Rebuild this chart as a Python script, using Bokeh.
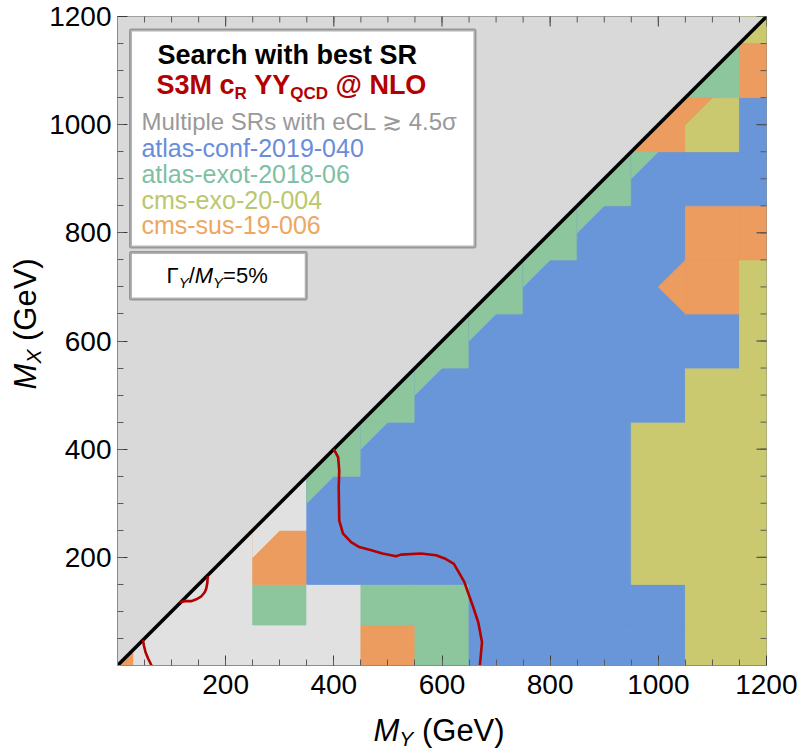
import numpy as np
from bokeh.plotting import figure
from bokeh.models import Range1d, FixedTicker, Label, BoxAnnotation
from bokeh.layouts import column, row
from bokeh.embed import file_html
from bokeh.resources import INLINE

# ---------------- data ----------------
# grid masses (GeV), used for both M_Y (columns) and M_X (rows)
masses = [10, 50, 100, 200, 300, 400, 500, 600, 700, 800, 900, 1000, 1100, 1200]
# best search per M_Y column, one code per M_X row from the lowest row up to the diagonal
best_sr = [
    "O",
    "LL",
    "LLL",
    "LLLL",
    "LLGOL",
    "LLLBBG",
    "OOGBBBG",
    "GGGBBBBG",
    "BBBBBBBBG",
    "BBBBBBBBBG",
    "BBBBBBBBBBG",
    "BBBYYYBBBBBO",
    "YYYYYYYBOOBYG",
    "YYYYYYYYYOBBOY",
]
# search winning the upper-left corner of the cell just below the diagonal (per column, from M_Y=200)
corner_sr = {200: "L", 300: "L", 400: "G", 500: "G", 600: "G", 700: "G", 800: "G",
             900: "G", 1000: "G", 1100: "O", 1200: "O"}
# cells (M_Y, M_X) whose region reaches into the left neighbour
spill_cells = [(1100, 700)]

cat_codes = ["L", "B", "G", "Y", "O"]
cat_labels = ["Multiple SRs with eCL \u2273 4.5\u03c3", "atlas-conf-2019-040",
              "atlas-exot-2018-06", "cms-exo-20-004", "cms-sus-19-006"]
cat_fill = {"L": "#e1e1e1", "B": "#6996d8", "G": "#8dc59d", "Y": "#cbc96f", "O": "#eb9c5e"}
cat_text = {"L": "#999999", "B": "#6a8cdc", "G": "#7fbfa3", "Y": "#bac76c", "O": "#eda762"}

# exclusion contour (M_Y, M_X), three pieces
contour_my = [
    [400, 408, 410, 409, 410, 417, 432, 447, 466, 490, 515, 524, 561, 589, 605, 622, 641, 657, 667, 674, 670],
    [115, 125, 137, 147, 155, 161, 164, 166, 167],
    [47, 49, 52, 57, 63],
]
contour_mx = [
    [400, 385, 360, 330, 268, 244, 228, 219, 214, 207, 202, 205, 207, 204, 198, 188, 155, 110, 80, 43, 0],
    [117, 119, 119, 123, 128, 135, 142, 152, 165],
    [47, 36, 24, 12, 0],
]

x_ticks = [200, 400, 600, 800, 1000, 1200]
y_ticks = [200, 400, 600, 800, 1000, 1200]
minor = list(range(50, 1200, 50))

# ---------------- main figure ----------------
FONT = "Liberation Sans"
LEFT_W = 46          # width of the strip holding the vertical axis title
MAIN_W = 70 + 650 + 31
MAIN_H = 16 + 649 + 45
BOTTOM_H = 751 - MAIN_H
BASE_FIX = 0.37      # text-box offset of Bokeh's alphabetic anchor, in em
p = figure(width=MAIN_W, height=MAIN_H, output_backend="svg", toolbar_location=None,
           x_range=Range1d(0, 1200), y_range=Range1d(0, 1200), title=None,
           min_border_left=70, min_border_right=31, min_border_top=16, min_border_bottom=45)
p.background_fill_color = "#d9d9d9"
p.border_fill_color = "white"
p.outline_line_color = "#8c8c8c"
p.xgrid.visible = False
p.ygrid.visible = False

for ax, ticks in ((p.xaxis[0], x_ticks), (p.yaxis[0], y_ticks)):
    ax.ticker = FixedTicker(ticks=ticks, minor_ticks=minor)
    ax.axis_label = None
    ax.axis_line_color = "#8c8c8c"
    ax.major_tick_in = 10
    ax.major_tick_out = 0
    ax.minor_tick_in = 6
    ax.minor_tick_out = 0
    ax.major_tick_line_color = "#3a3a3a"
    ax.minor_tick_line_color = "#5a5a5a"
    ax.major_label_text_font = FONT
    ax.major_label_text_font_size = "28px"
    ax.major_label_text_color = "black"
p.xaxis[0].major_label_standoff = 9
p.yaxis[0].major_label_standoff = 6

# ---------------- cells ----------------
lo_edge = p.x_range.start
hi_edge = p.x_range.end
edges = [lo_edge] + [(a + b) / 2 for a, b in zip(masses[:-1], masses[1:])] + [hi_edge]

ql, qr, qb, qt, qc = [], [], [], [], []
for i, col in enumerate(best_sr):
    for j, code in enumerate(col):
        ql.append(edges[i]); qr.append(edges[i + 1])
        qb.append(edges[j]); qt.append(edges[j + 1])
        qc.append(cat_fill[code])
p.quad(left=ql, right=qr, bottom=qb, top=qt, fill_color=qc, line_color=qc, line_width=0.8)

px_, py_, pc_ = [], [], []
for i, m in enumerate(masses):
    if m in corner_sr and i >= 1:
        xs = [edges[i], masses[i], edges[i]]
        ys = [(edges[i - 1] + edges[i]) / 2, edges[i], edges[i]]
        px_.append(xs); py_.append(ys); pc_.append(cat_fill[corner_sr[m]])
for (my, mx) in spill_cells:
    i = masses.index(my); j = masses.index(mx)
    xs = [edges[i] + 0.5, masses[i - 1], edges[i] + 0.5]
    ys = [edges[j + 1], masses[j], edges[j]]
    px_.append(xs); py_.append(ys); pc_.append(cat_fill[best_sr[i][j]])
p.patches(px_, py_, fill_color=pc_, line_color=pc_, line_width=0.8)

# region above the diagonal
p.patch([lo_edge, lo_edge, hi_edge], [lo_edge, hi_edge, hi_edge], fill_color="#d9d9d9", line_color=None)
p.line([lo_edge, hi_edge], [lo_edge, hi_edge], line_color="black", line_width=3.5)

# contour
for xs, ys in zip(contour_my, contour_mx):
    p.line(xs, ys, line_color="#b30000", line_width=2.6, line_join="round")

# ticks on the top and right frame edges (markers centred on the edge, clipped to the frame)
p.scatter(x=x_ticks, y=[hi_edge] * len(x_ticks), marker="dash", size=20, angle=np.pi / 2,
          line_color="#3a3a3a", line_width=1)
p.scatter(x=minor, y=[hi_edge] * len(minor), marker="dash", size=12, angle=np.pi / 2,
          line_color="#5a5a5a", line_width=1)
p.scatter(x=[hi_edge] * len(y_ticks), y=y_ticks, marker="dash", size=20,
          line_color="#3a3a3a", line_width=1)
p.scatter(x=[hi_edge] * len(minor), y=minor, marker="dash", size=12,
          line_color="#5a5a5a", line_width=1)

# ---------------- annotations ----------------
def px2x(px):
    return (px - 116) * 1200 / 650.0

def py2y(py):
    return (665 - py) * 1200 / 649.0

ADV = {" ": .278, "(": .333, ")": .333, "G": .778, "e": .556, "V": .667, "M": .833, "Y": .667,
       "X": .667, "/": .278, "=": .584, "5": .556, "%": .889, "\u0393": .556, "S": .667, "3": .556,
       "c": .556, "R": .722, "Q": .778, "C": .722, "D": .722, "@": .975, "N": .722, "L": .611,
       "O": .778}

def tw(s, size):
    return sum(ADV.get(ch, 0.556) for ch in s) * size

def label(fig, text, x, y, size, color="black", style="normal", xo=0, yo=0, angle=0.0):
    if angle:
        xo = xo - BASE_FIX * size
    else:
        yo = yo + BASE_FIX * size
    fig.add_layout(Label(x=x, y=y, text=text, text_font=FONT, text_font_size=f"{size}px",
                         text_font_style=style, text_color=color, text_align="left",
                         text_baseline="alphabetic", x_offset=xo, y_offset=yo, angle=angle))

def chain(fig, pieces, x, y, vertical=False, color="black"):
    """pieces: (text, size, shift, style); leading blanks become advance."""
    off = 0.0
    for txt, sz, sh, st in pieces:
        stripped = txt.lstrip(" ")
        off += tw(txt[:len(txt) - len(stripped)], sz)
        if vertical:
            label(fig, stripped, x, y, sz, color=color, style=st, xo=sh, yo=off, angle=np.pi / 2)
        else:
            label(fig, stripped, x, y, sz, color=color, style=st, xo=off, yo=sh)
        off += tw(stripped, sz)

p.add_layout(BoxAnnotation(left=px2x(129), right=px2x(474), top=py2y(29.5), bottom=py2y(246.5),
                           fill_color="white", fill_alpha=1.0, line_color="black", line_width=3))
p.add_layout(BoxAnnotation(left=px2x(129), right=px2x(305), top=py2y(252), bottom=py2y(298.5),
                           fill_color="white", fill_alpha=1.0, line_color="black", line_width=3))

label(p, "Search with best SR", px2x(156), py2y(64.5), 27, style="bold")
chain(p, [("S3M c", 27, 0, "bold"), ("R", 17, -5, "bold"), (" YY", 27, 0, "bold"),
          ("QCD", 17, -5, "bold"), (" @ NLO", 27, 0, "bold")],
      px2x(155), py2y(94), color="#b30000")

base = [130, 156.5, 182.5, 208.5, 233.5]
sizes = [24, 25, 25, 25, 25]
for code, txt, b, sz in zip(cat_codes, cat_labels, base, sizes):
    label(p, txt, px2x(140), py2y(b), sz, color=cat_text[code])

chain(p, [("\u0393", 22, 0, "normal"), ("Y", 15, -4, "italic"), ("/", 22, 0, "normal"),
          ("M", 22, 0, "italic"), ("Y", 15, -4, "italic"), ("=5%", 22, 0, "normal")],
      px2x(165), py2y(283.5))

# ---------------- axis-title strips ----------------
fy = figure(width=LEFT_W, height=MAIN_H, x_range=Range1d(0, LEFT_W), y_range=Range1d(0, MAIN_H),
            output_backend="svg", toolbar_location=None, title=None, min_border=0,
            x_axis_location=None, y_axis_location=None)
fy.outline_line_color = None
fy.grid.visible = False
chain(fy, [("M", 31, 0, "italic"), ("X", 21, 5, "italic"), (" (GeV)", 31, 0, "normal")],
      36, MAIN_H - 408, vertical=True)

fx = figure(width=LEFT_W + MAIN_W, height=BOTTOM_H, x_range=Range1d(0, LEFT_W + MAIN_W),
            y_range=Range1d(0, BOTTOM_H), output_backend="svg", toolbar_location=None, title=None,
            min_border=0, x_axis_location=None, y_axis_location=None)
fx.outline_line_color = None
fx.grid.visible = False
chain(fx, [("M", 31, 0, "italic"), ("Y", 21, -4.5, "italic"), (" (GeV)", 31, 0, "normal")],
      373, 751 - 741.5)

layout = column(row(fy, p, spacing=0), fx, spacing=0)
open("out.html", "w").write(file_html(layout, INLINE))
